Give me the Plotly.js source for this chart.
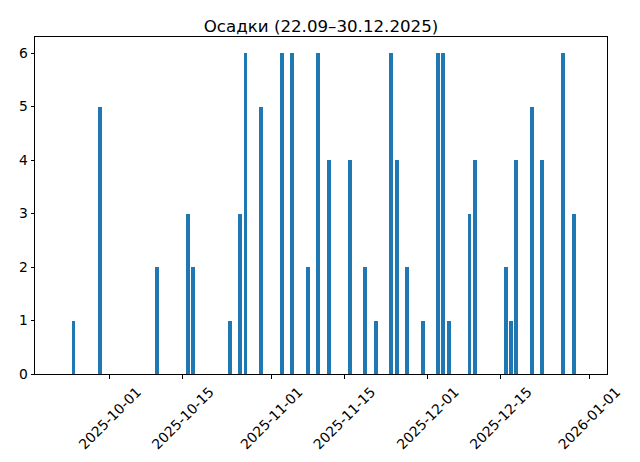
<!DOCTYPE html>
<html>
<head>
<meta charset="utf-8">
<script src="https://cdn.plot.ly/plotly-3.0.1.min.js"></script>
<style>
  html, body { margin: 0; padding: 0; background: #ffffff; }
  #chart { width: 640px; height: 462px; }
</style>
</head>
<body>
<div id="chart"></div>
<script>
// Daily precipitation (non-zero days), 22.09–30.12.2025
const dates = [
  "2025-09-24", "2025-09-29", "2025-10-10", "2025-10-16", "2025-10-17",
  "2025-10-24", "2025-10-26", "2025-10-27", "2025-10-30", "2025-11-03",
  "2025-11-05", "2025-11-08", "2025-11-10", "2025-11-12", "2025-11-16",
  "2025-11-19", "2025-11-21", "2025-11-24", "2025-11-25", "2025-11-27",
  "2025-11-30", "2025-12-03", "2025-12-04", "2025-12-05", "2025-12-09",
  "2025-12-10", "2025-12-16", "2025-12-17", "2025-12-18", "2025-12-21",
  "2025-12-23", "2025-12-27", "2025-12-29"
];
const precipitation = [
  1, 5, 2, 3, 2,
  1, 3, 6, 5, 6,
  6, 2, 6, 4, 4,
  2, 1, 6, 4, 2,
  1, 6, 6, 1, 3,
  4, 2, 1, 4, 5,
  4, 6, 3
];
const xTickVals = ["2025-10-01", "2025-10-15", "2025-11-01", "2025-11-15", "2025-12-01", "2025-12-15", "2026-01-01"];
const xTickText = ["2025-10-01", "2025-10-15", "2025-11-01", "2025-11-15", "2025-12-01", "2025-12-15", "2026-01-01"];
const yTickVals = [0, 1, 2, 3, 4, 5, 6];
const titleText = "Осадки (22.09–30.12.2025)";

const DAY_MS = 86400000;
const font = "DejaVu Sans, Liberation Sans, sans-serif";

const trace = {
  type: "bar",
  x: dates,
  y: precipitation,
  width: dates.map(() => 0.75 * DAY_MS),
  marker: { color: "#1f77b4", line: { width: 0 } },
  hoverinfo: "skip"
};

const layout = {
  width: 640,
  height: 462,
  paper_bgcolor: "#ffffff",
  plot_bgcolor: "#ffffff",
  margin: { l: 34.5, r: 32.5, t: 36.5, b: 87.5, pad: 0 },
  showlegend: false,
  bargap: 0,
  title: {
    text: titleText,
    font: { family: font, size: 16.67, color: "#000000" },
    x: 0.5, xanchor: "center", xref: "paper",
    y: 1 - 31.5 / 462, yanchor: "bottom", yref: "container"
  },
  xaxis: {
    type: "date",
    range: ["2025-09-16 14:38", "2026-01-04 09:22"],
    tickvals: xTickVals,
    ticktext: xTickText,
    tickangle: -45,
    ticklabelshift: 27,
    ticks: "outside",
    ticklen: 3.5,
    tickwidth: 1,
    tickcolor: "#000000",
    tickfont: { family: font, size: 13.89, color: "#000000" },
    showgrid: false,
    zeroline: false,
    showline: true,
    mirror: true,
    linecolor: "#000000",
    linewidth: 1
  },
  yaxis: {
    range: [0, 6.3],
    tickvals: yTickVals,
    ticks: "outside",
    ticklen: 3.5,
    tickwidth: 1,
    tickcolor: "#000000",
    tickfont: { family: font, size: 13.89, color: "#000000" },
    showgrid: false,
    zeroline: false,
    showline: true,
    mirror: true,
    linecolor: "#000000",
    linewidth: 1
  }
};

Plotly.newPlot("chart", [trace], layout, { displayModeBar: false, staticPlot: true });
</script>
</body>
</html>
